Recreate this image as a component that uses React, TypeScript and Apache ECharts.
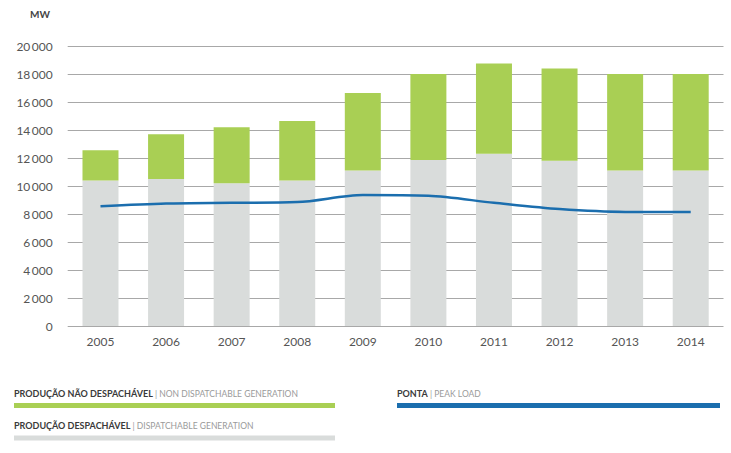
import React, { useEffect, useRef } from "react";
import * as echarts from "echarts";

const years = ["2005", "2006", "2007", "2008", "2009", "2010", "2011", "2012", "2013", "2014"];
const dispatchable = [10400, 10500, 10200, 10400, 11100, 11850, 12300, 11800, 11100, 11100];
const totalGeneration = [12550, 13700, 14200, 14650, 16650, 18000, 18750, 18400, 18000, 18000];
const nonDispatchable = totalGeneration.map((t, i) => t - dispatchable[i]);
const peakLoad = [8550, 8750, 8800, 8850, 9350, 9300, 8800, 8350, 8150, 8150];

const GREEN = "#a9cf54";
const GRAY = "#d9dcdb";
const BLUE = "#1b6eae";
const FONT = "Lato";

function fmt(v: number) {
  const s = String(v);
  if (s.length <= 3) return s;
  return s.slice(0, s.length - 3) + "\u2009" + s.slice(s.length - 3);
}

export default function App() {
  const ref = useRef<HTMLDivElement>(null);
  useEffect(() => {
    if (!ref.current) return;
    const chart = echarts.init(ref.current, null, { renderer: "svg" });
    const legendText = (x: number, y: number, bold: string, light: string) => ({
      type: "text",
      left: x,
      top: y,
      style: {
        text: `{a|${bold}}{b| | ${light}}`,
        rich: {
          a: { fontFamily: FONT, fontWeight: "bold", fontSize: 9, fill: "#3a3a3a" },
          b: { fontFamily: FONT, fontSize: 8.5, fill: "#9a9a9a" },
        },
      },
    });
    chart.setOption({
      animation: false,
      grid: { left: 67.7, right: 7.5, top: 46, bottom: 127 },
      xAxis: {
        type: "category",
        data: years,
        axisTick: { show: false },
        axisLine: { show: false },
        axisLabel: { color: "#555", fontFamily: FONT, fontSize: 12, margin: 9 },
      },
      yAxis: {
        type: "value",
        min: 0,
        max: 20000,
        interval: 2000,
        axisLabel: { color: "#555", fontFamily: FONT, fontSize: 12, margin: 15, formatter: (v: number) => fmt(v) },
        splitLine: { lineStyle: { color: "#a8a8a8", width: 1 } },
        axisLine: { show: false },
        axisTick: { show: false },
      },
      series: [
        {
          name: "Produção despachável",
          type: "bar",
          stack: "g",
          data: dispatchable,
          barWidth: 36,
          itemStyle: { color: GRAY },
        },
        {
          name: "Produção não despachável",
          type: "bar",
          stack: "g",
          data: nonDispatchable,
          barWidth: 36,
          itemStyle: { color: GREEN },
        },
        {
          name: "Ponta",
          type: "line",
          data: peakLoad,
          smooth: 0.3,
          symbol: "none",
          lineStyle: { color: BLUE, width: 2.5 },
          z: 5,
        },
      ],
      graphic: [
        {
          type: "text",
          left: 30,
          top: 9,
          style: { text: "MW", fontFamily: FONT, fontWeight: "bold", fontSize: 10, fill: "#444" },
        },
        legendText(14, 389, "PRODUÇÃO NÃO DESPACHÁVEL", "NON DISPATCHABLE GENERATION"),
        { type: "rect", shape: { x: 14, y: 403, width: 321, height: 5 }, style: { fill: GREEN } },
        legendText(14, 421, "PRODUÇÃO DESPACHÁVEL", "DISPATCHABLE GENERATION"),
        { type: "rect", shape: { x: 14, y: 435.5, width: 321, height: 5 }, style: { fill: GRAY } },
        {
          type: "text",
          left: 397,
          top: 389,
          style: {
            text: "{a|PONTA}{b| | PEAK LOAD}",
            rich: {
              a: { fontFamily: FONT, fontWeight: "bold", fontSize: 9, fill: "#3a3a3a" },
              b: { fontFamily: FONT, fontSize: 8.5, fill: "#9a9a9a" },
            },
          },
        },
        { type: "rect", shape: { x: 397, y: 403, width: 323, height: 5 }, style: { fill: BLUE } },
      ],
    });
    return () => chart.dispose();
  }, []);
  return <div ref={ref} style={{ width: 731, height: 453, position: "absolute", left: 0, top: 0 }} />;
}
